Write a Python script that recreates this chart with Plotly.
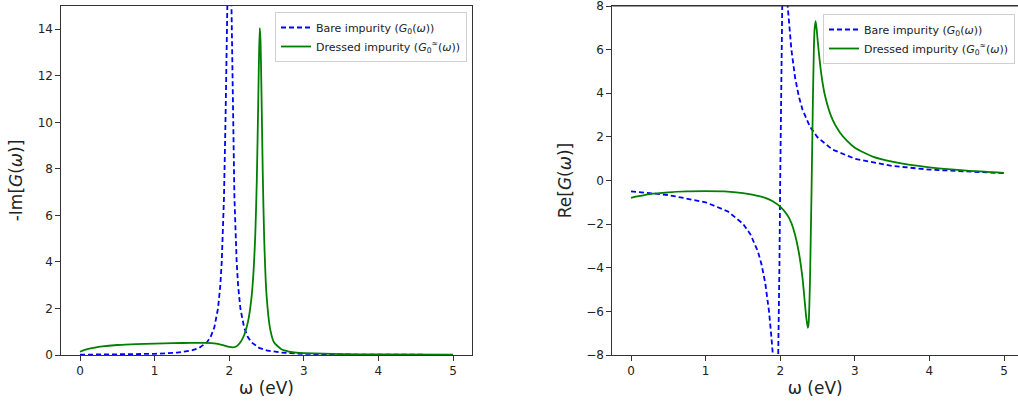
import plotly.graph_objects as go

# ---------------- data ----------------
w_bare = [0.0, 0.5, 1.0, 1.3, 1.5, 1.6, 1.7, 1.75, 1.8, 1.85, 1.88, 1.9, 1.93, 1.95, 1.97, 1.98,
          1.99, 2.0, 2.01, 2.02, 2.03, 2.05, 2.07, 2.1, 2.12, 2.15, 2.2, 2.25, 2.3, 2.4, 2.5,
          2.7, 3.0, 3.5, 4.0, 4.5, 5.0]
im_bare = [0.0125, 0.022, 0.050, 0.102, 0.198, 0.308, 0.541, 0.769, 1.18, 2.0, 2.96, 4.0, 6.76, 10.0,
           14.7, 17.2, 19.2, 20.0, 19.2, 17.2, 14.7, 10.0, 6.76, 4.0, 2.96, 2.0, 1.18, 0.769, 0.541,
           0.308, 0.198, 0.102, 0.050, 0.022, 0.0125, 0.008, 0.0056]
re_bare = [-0.50, -0.666, -0.998, -1.42, -1.98, -2.46, -3.24, -3.85, -4.71, -6.0, -7.10, -8.0, -9.46,
           -10.0, -8.82, -6.90, -3.85, 0.0, 3.85, 6.90, 8.82, 10.0, 9.46, 8.0, 7.10, 6.0, 4.71, 3.85,
           3.24, 2.46, 1.98, 1.42, 0.998, 0.666, 0.50, 0.40, 0.333]

w_dim = [0.0, 0.1, 0.2, 0.3, 0.5, 0.75, 1.0, 1.25, 1.5, 1.7, 1.8, 1.9, 2.0, 2.05, 2.1, 2.15, 2.2,
         2.25, 2.3, 2.33, 2.35, 2.37, 2.39, 2.40, 2.41, 2.42, 2.43, 2.44, 2.45, 2.47, 2.5, 2.55,
         2.6, 2.7, 2.8, 2.9, 3.0, 3.5, 4.0, 5.0]
im_dressed = [0.14, 0.25, 0.32, 0.37, 0.43, 0.47, 0.49, 0.51, 0.52, 0.52, 0.50, 0.44, 0.35, 0.33,
              0.38, 0.55, 0.85, 1.4, 2.5, 3.8, 5.2, 7.5, 11.0, 12.9, 14.05, 13.5, 11.8, 9.8, 7.8,
              4.9, 2.6, 1.1, 0.55, 0.25, 0.15, 0.10, 0.08, 0.04, 0.025, 0.015]

w_dre = [0.0, 0.1, 0.25, 0.5, 0.75, 1.0, 1.25, 1.5, 1.7, 1.8, 1.9, 2.0, 2.1, 2.15, 2.2, 2.25, 2.3,
         2.33, 2.35, 2.37, 2.38, 2.39, 2.40, 2.41, 2.42, 2.43, 2.44, 2.45, 2.46, 2.475, 2.49, 2.5,
         2.55, 2.6, 2.7, 2.8, 2.9, 3.0, 3.25, 3.5, 4.0, 4.5, 5.0]
re_dressed = [-0.80, -0.72, -0.62, -0.54, -0.50, -0.49, -0.50, -0.58, -0.70, -0.80, -0.95, -1.2,
              -1.6, -1.95, -2.5, -3.3, -4.5, -5.6, -6.3, -6.75, -6.6, -5.8, -4.5, -2.5, -0.5, 1.8,
              4.0, 5.8, 6.9, 7.3, 6.9, 6.5, 4.9, 3.9, 2.8, 2.2, 1.8, 1.5, 1.08, 0.86, 0.6, 0.45,
              0.35]

x_ticks = [0, 1, 2, 3, 4, 5]
y_ticks_left = [0, 2, 4, 6, 8, 10, 12, 14]
y_ticks_right = [-8, -6, -4, -2, 0, 2, 4, 6, 8]

label_bare = "Bare impurity (<i>G</i><sub>0</sub>(<i>ω</i>))"
label_dressed = "Dressed impurity (<i>G</i><sub>0</sub><sup>≈</sup>(<i>ω</i>))"

# ---------------- figure ----------------
W, H = 1018, 406
FONT = "DejaVu Sans"
BLUE = "#0000ff"
GREEN = "#008000"
AX = "#333333"

fig = go.Figure()

fig.add_trace(go.Scatter(x=w_bare, y=im_bare, mode="lines", name=label_bare,
                         line=dict(color=BLUE, width=1.8, dash="5px,3px"),
                         xaxis="x", yaxis="y", legend="legend"))
fig.add_trace(go.Scatter(x=w_dim, y=im_dressed, mode="lines", name=label_dressed,
                         line=dict(color=GREEN, width=1.8, shape="spline", smoothing=0.6),
                         xaxis="x", yaxis="y", legend="legend"))
fig.add_trace(go.Scatter(x=w_bare, y=re_bare, mode="lines", name=label_bare,
                         line=dict(color=BLUE, width=1.8, dash="5px,3px"),
                         xaxis="x2", yaxis="y2", legend="legend2"))
fig.add_trace(go.Scatter(x=w_dre, y=re_dressed, mode="lines", name=label_dressed,
                         line=dict(color=GREEN, width=1.8, shape="spline", smoothing=0.6),
                         xaxis="x2", yaxis="y2", legend="legend2"))

ppu = 74.6  # pixels per x unit
l0 = 80 - 0.25 * ppu
r0 = 453 + 0.25 * ppu
l1 = 631 - 0.25 * ppu

common_axis = dict(showgrid=False, zeroline=False, showline=True, linecolor=AX, linewidth=1,
                   ticks="outside", ticklen=5, tickwidth=1, tickcolor=AX,
                   ticklabeloverflow="allow",
                   tickfont=dict(family=FONT, size=12, color="#222"))

fig.update_layout(
    width=W, height=H,
    margin=dict(l=0, r=0, t=6, b=51),
    paper_bgcolor="white", plot_bgcolor="white",
    font=dict(family=FONT, color="#222"),
    xaxis=dict(domain=[l0 / W, r0 / W], range=[-0.25, 5.25], tickvals=x_ticks, mirror=True,
               anchor="y", title=dict(text="ω (eV)", font=dict(family=FONT, size=17), standoff=4),
               **common_axis),
    yaxis=dict(domain=[0, 1], range=[0, 15], tickvals=y_ticks_left, mirror=True, anchor="x",
               title=dict(text="-Im[<i>G</i>(<i>ω</i>)]", font=dict(family=FONT, size=17), standoff=10),
               **common_axis),
    xaxis2=dict(domain=[l1 / W, 1.0], range=[-0.25, (W - 631) / ppu], tickvals=x_ticks, mirror=True,
                anchor="y2", title=dict(text="ω (eV)", font=dict(family=FONT, size=17), standoff=4),
                **common_axis),
    yaxis2=dict(domain=[0, 1], range=[-8, 8], tickvals=y_ticks_right, mirror=False, anchor="x2",
                title=dict(text="Re[<i>G</i>(<i>ω</i>)]", font=dict(family=FONT, size=17), standoff=10),
                **common_axis),
    legend=dict(x=467 / W, y=1 - (12 - 6) / 349, xanchor="right", yanchor="top",
                bgcolor="rgba(255,255,255,0.85)", bordercolor="#d0d0d0", borderwidth=1,
                font=dict(family=FONT, size=11, color="#222")),
    legend2=dict(x=1015 / W, y=1 - (14 - 6) / 349, xanchor="right", yanchor="top",
                 bgcolor="rgba(255,255,255,0.85)", bordercolor="#d0d0d0", borderwidth=1,
                 font=dict(family=FONT, size=11, color="#222")),
    showlegend=True,
)

# top spine of the right panel (its right spine lies outside the cropped picture)
fig.add_shape(type="line", xref="x2 domain", yref="y2 domain", x0=0, x1=1, y0=1, y1=1,
              line=dict(color=AX, width=1), layer="above")

fig.write_html("out.html")
